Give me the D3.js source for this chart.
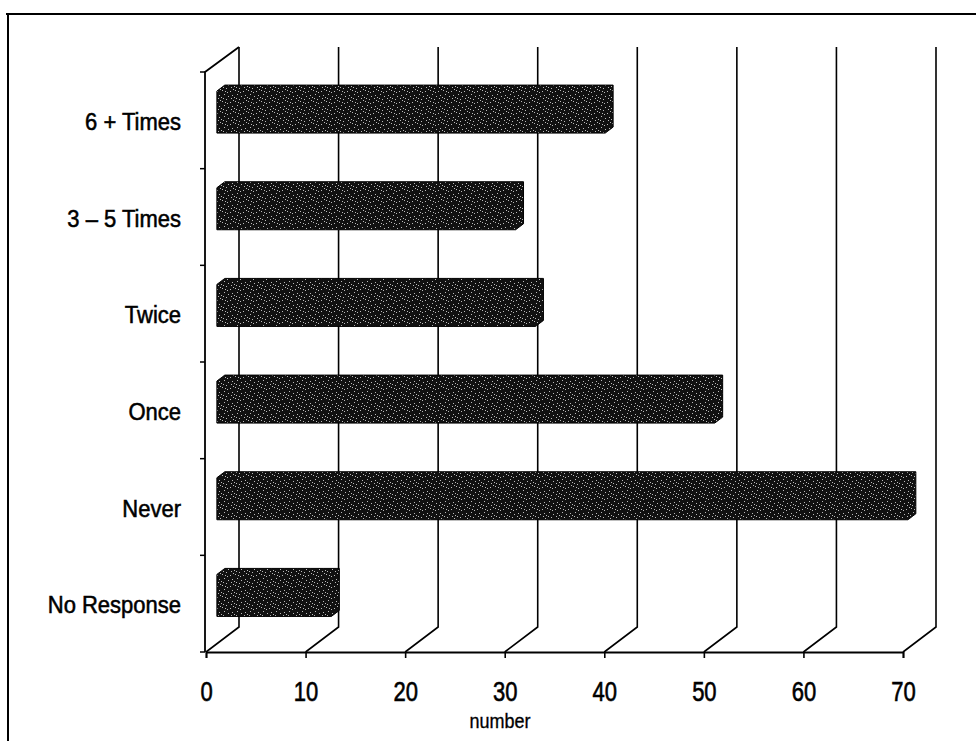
<!DOCTYPE html>
<html><head><meta charset="utf-8">
<script src="https://cdn.jsdelivr.net/npm/d3@7"></script>
<style>html,body{margin:0;padding:0;background:#fff;}svg{display:block;}</style>
</head><body>
<svg id="chart" width="976" height="741"></svg>
<script>
const categories = ["6 + Times", "3 \u2013 5 Times", "Twice", "Once", "Never", "No Response"];
const values = [39, 30, 32, 50, 69.4, 11.5];
const xTicks = [0, 10, 20, 30, 40, 50, 60, 70];
const xTitle = "number";

(function () {
const svg = d3.select("#chart");
const W = 976, H = 741;
const DX = 33, DY = -25;
const zFront = 0.33, zBack = 0.57;
const FONT = "'Liberation Sans', Arial, sans-serif";

const x = d3.scaleLinear().domain([0, 70]).range([206, 903]);
const y = d3.scaleBand().domain(categories).range([72, 652])
  .paddingInner(0.5655).paddingOuter(0.5655 / 2);
const yCat = d3.scaleBand().domain(categories).range([72, 652]);

const defs = svg.append("defs");
const pat = defs.append("pattern").attr("id", "speck").attr("patternUnits", "userSpaceOnUse")
  .attr("width", 13).attr("height", 11);
pat.append("rect").attr("width", 13).attr("height", 11).attr("fill", "#111");
const dots = [[1,2],[5,0],[9,3],[3,6],[7,8],[11,7],[0,9],[6,4],[10,10],[2,10],[12,1],[4,3]];
pat.selectAll("rect.d").data(dots).join("rect").attr("class", "d")
  .attr("x", d => d[0]).attr("y", d => d[1]).attr("width", 1).attr("height", 1)
  .attr("fill", "#bbb");

svg.append("line").attr("x1", 6).attr("x2", W).attr("y1", 14).attr("y2", 14)
  .attr("stroke", "#000").attr("stroke-width", 2);
svg.append("line").attr("x1", 8).attr("x2", 8).attr("y1", 13).attr("y2", H)
  .attr("stroke", "#000").attr("stroke-width", 2);

const g = svg.append("g");
const yTop = 72, yBot = 652;

xTicks.forEach(t => {
  const fx = x(t);
  g.append("path")
    .attr("d", `M${fx},${yBot} L${fx + DX},${yBot + DY} L${fx + DX},${yTop + DY}`)
    .attr("fill", "none").attr("stroke", "#000").attr("stroke-width", 1.6);
});

g.append("path")
  .attr("d", `M${x(0) - 1},${yBot} L${x(0) - 1},${yTop} L${x(0) + DX},${yTop + DY}`)
  .attr("fill", "none").attr("stroke", "#000").attr("stroke-width", 1.8);
d3.range(categories.length + 1).forEach(i => {
  const yy = yTop + i * yCat.step();
  g.append("line").attr("x1", x(0) - 6).attr("x2", x(0) - 1).attr("y1", yy).attr("y2", yy)
    .attr("stroke", "#000").attr("stroke-width", 1.5);
});

const axis = d3.axisBottom(x).tickValues(xTicks).tickSize(6).tickFormat(d3.format("d"));
const ax = g.append("g").attr("transform", `translate(0,${yBot})`).call(axis);
ax.select(".domain").attr("stroke", "#000").attr("stroke-width", 1.8);
ax.selectAll(".tick line").attr("stroke", "#000").attr("stroke-width", 1.6);
ax.selectAll(".tick text")
  .attr("font-family", FONT).attr("font-size", 22)
  .attr("fill", "#000").attr("stroke", "#000").attr("stroke-width", 0.5)
  .attr("dy", 0).attr("y", (701 - yBot) / 1.25)
  .attr("transform", "scale(1,1.25)");

const fdx = DX * zFront, fdy = DY * zFront;
const bdx = DX * zBack, bdy = DY * zBack;
g.selectAll("path.bar").data(categories).join("path").attr("class", "bar")
  .attr("d", (c, i) => {
    const x0 = x(0), x1 = x(values[i]);
    const y0 = y(c), y1 = y(c) + y.bandwidth();
    return `M${x0 + fdx},${y1 + fdy} L${x0 + fdx},${y0 + fdy} L${x0 + bdx},${y0 + bdy} ` +
      `L${x1 + bdx},${y0 + bdy} L${x1 + bdx},${y1 + bdy} L${x1 + fdx},${y1 + fdy} Z`;
  })
  .attr("fill", "url(#speck)").attr("stroke", "#000").attr("stroke-width", 1);

g.selectAll("g.cat").data(categories).join("g").attr("class", "cat")
  .attr("transform", c => `translate(181,${yCat(c) + yCat.bandwidth() / 2 + 9.5}) scale(1,1.1)`)
  .append("text").attr("text-anchor", "end")
  .attr("font-family", FONT).attr("font-size", 22)
  .attr("fill", "#000").attr("stroke", "#000").attr("stroke-width", 0.5).text(c => c);

svg.append("g").attr("transform", "translate(500,728) scale(1,1.1)")
  .append("text").attr("text-anchor", "middle")
  .attr("font-family", FONT).attr("font-size", 18)
  .attr("fill", "#000").attr("stroke", "#000").attr("stroke-width", 0.3).text(xTitle);
})();
</script>
</body></html>
